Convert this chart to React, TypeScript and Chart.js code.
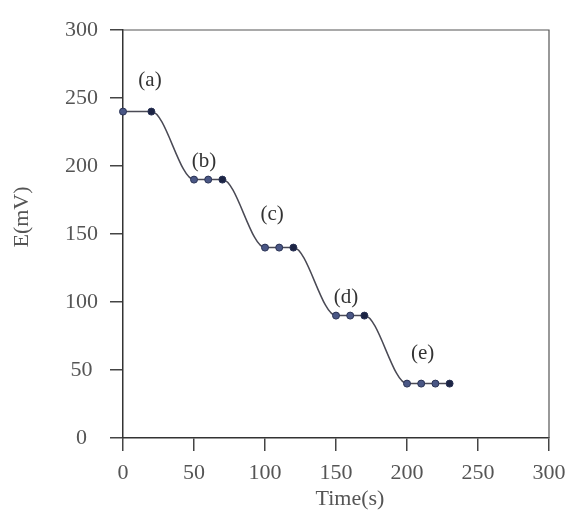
import React, { useEffect, useRef } from "react";
import { Chart, registerables } from "chart.js";

Chart.register(...registerables);

const timeValues = [0, 20, 50, 60, 70, 100, 110, 120, 150, 160, 170, 200, 210, 220, 230];
const potentialValues = [240, 240, 190, 190, 190, 140, 140, 140, 90, 90, 90, 40, 40, 40, 40];
const xTicks = [0, 50, 100, 150, 200, 250, 300];
const yTicks = [0, 50, 100, 150, 200, 250, 300];
const labelTexts = ["(a)", "(b)", "(c)", "(d)", "(e)"];
const labelTimes = [19, 57, 105, 157, 211];
const labelPotentials = [263, 203, 164, 103, 62];

const FONT = "'Liberation Serif', 'Times New Roman', serif";

export default function App() {
  const ref = useRef<HTMLCanvasElement | null>(null);

  useEffect(() => {
    const canvas = ref.current;
    if (!canvas) return;

    const framePlugin = {
      id: "frame",
      afterDraw(chart: any) {
        const { ctx, chartArea, scales } = chart;
        ctx.save();
        ctx.strokeStyle = "#555";
        ctx.lineWidth = 1.2;
        ctx.beginPath();
        ctx.moveTo(chartArea.left, chartArea.top);
        ctx.lineTo(chartArea.right, chartArea.top);
        ctx.lineTo(chartArea.right, chartArea.bottom);
        ctx.stroke();

        ctx.fillStyle = "#333";
        ctx.font = `21px ${FONT}`;
        ctx.textAlign = "center";
        ctx.textBaseline = "middle";
        labelTexts.forEach((t, i) => {
          ctx.fillText(t, scales.x.getPixelForValue(labelTimes[i]), scales.y.getPixelForValue(labelPotentials[i]));
        });

        ctx.fillStyle = "#555";
        ctx.font = `22px ${FONT}`;
        ctx.fillText("Time(s)", (chartArea.left + chartArea.right) / 2 + 14, 499);
        ctx.translate(22, (chartArea.top + chartArea.bottom) / 2 - 17);
        ctx.rotate(-Math.PI / 2);
        ctx.fillText("E(mV)", 0, 0);
        ctx.restore();
      },
    };

    const chart = new Chart(canvas, {
      type: "line",
      data: {
        datasets: [
          {
            data: timeValues.map((t, i) => ({ x: t, y: potentialValues[i] })),
            borderColor: "#4a4a55",
            borderWidth: 1.5,
            cubicInterpolationMode: "monotone",
            clip: false,
            pointRadius: 3.5,
            pointBorderWidth: 1,
            pointBackgroundColor: (c: any) => {
              const i = c.dataIndex;
              const last = i === potentialValues.length - 1 || potentialValues[i + 1] !== potentialValues[i];
              return last ? "#1c2444" : "#4a5785";
            },
            pointBorderColor: "#2a3355",
          },
        ],
      },
      options: {
        responsive: false,
        animation: false,
        layout: { padding: { left: 0, right: 21, top: 30, bottom: 0 } },
        plugins: { legend: { display: false }, tooltip: { enabled: false } },
        scales: {
          x: {
            type: "linear",
            min: 0,
            max: 300,
            afterFit: (s: any) => {
              s.height = 74;
              s.paddingLeft = 0;
              s.paddingRight = 0;
            },
            afterBuildTicks: (s: any) => {
              s.ticks = xTicks.map((v) => ({ value: v }));
            },
            grid: {
              display: true,
              drawOnChartArea: false,
              drawTicks: true,
              tickLength: 13,
              color: "#444",
              lineWidth: 1.5,
            },
            border: { display: true, color: "#333", width: 1.5 },
            ticks: {
              font: { family: FONT, size: 22 },
              color: "#555",
              padding: 9,
              maxRotation: 0,
            },
          },
          y: {
            type: "linear",
            min: 0,
            max: 300,
            afterFit: (s: any) => {
              s.width = 123;
              s.paddingTop = 0;
              s.paddingBottom = 0;
            },
            afterBuildTicks: (s: any) => {
              s.ticks = yTicks.map((v) => ({ value: v }));
            },
            grid: {
              display: true,
              drawOnChartArea: false,
              drawTicks: true,
              tickLength: 13,
              color: "#444",
              lineWidth: 1.5,
            },
            border: { display: true, color: "#333", width: 1.5 },
            ticks: {
              font: { family: FONT, size: 22 },
              color: "#555",
              padding: 12,
              crossAlign: "center",
            },
          },
        },
      },
      plugins: [framePlugin],
    } as any);

    return () => chart.destroy();
  }, []);

  return (
    <div style={{ position: "fixed", left: 0, top: 0, width: 570, height: 512, background: "#fff" }}>
      <canvas ref={ref} width={570} height={512} style={{ width: 570, height: 512 }} />
    </div>
  );
}
